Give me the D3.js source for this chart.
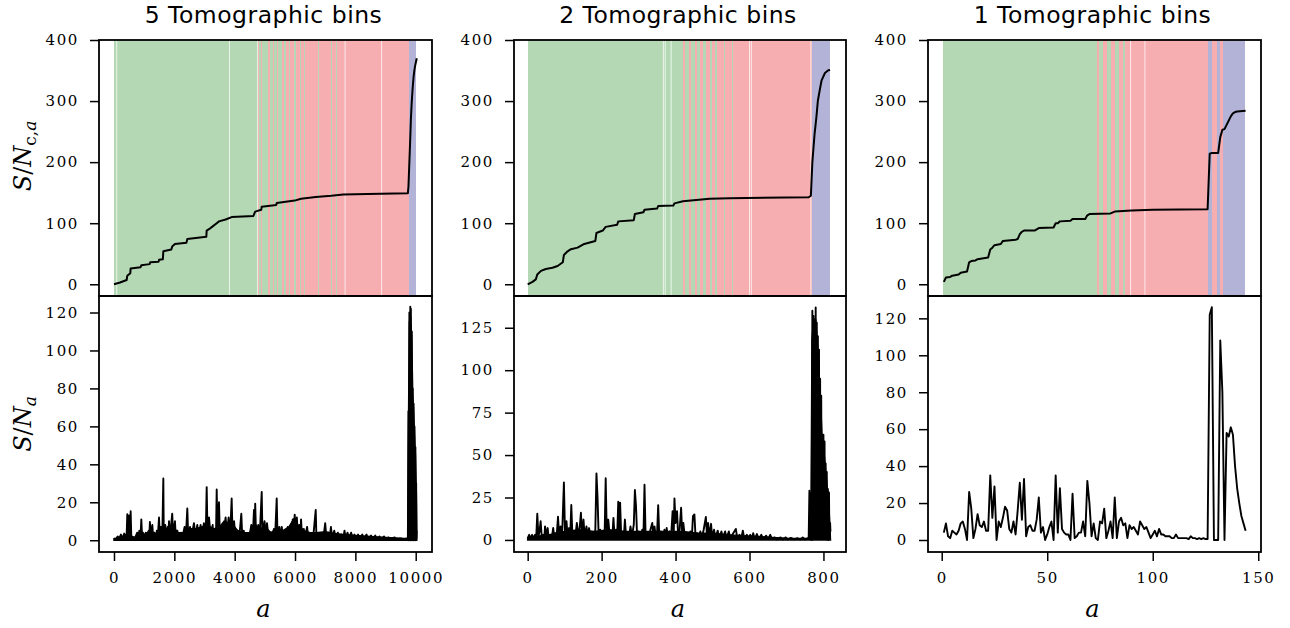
<!DOCTYPE html>
<html>
<head>
<meta charset="utf-8">
<script src="https://cdn.jsdelivr.net/npm/d3@7"></script>
<style>
  body { margin: 0; background: #fff; }
  .tick text { font-family: 'DejaVu Serif', serif; font-size: 15px; letter-spacing: 1.6px; fill: #000; }
  .tick line { stroke: #000; stroke-width: 1.5; }
  .title { font-family: 'DejaVu Sans', sans-serif; font-size: 23.5px; letter-spacing: 0.5px; }
  .math { font-family: 'DejaVu Serif', serif; font-size: 24px; }
</style>
</head>
<body>
<div id="d3block"></div>
<script>
// ---- data ----
var titles = ['5 Tomographic bins', '2 Tomographic bins', '1 Tomographic bins']

var xTicks5 = [0, 2000, 4000, 6000, 8000, 10000]
var xTicks2 = [0, 200, 400, 600, 800]
var xTicks1 = [0, 50, 100, 150]
var yTicksCum = [0, 100, 200, 300, 400]
var yTicks5 = [0, 20, 40, 60, 80, 100, 120]
var yTicks2 = [0, 25, 50, 75, 100, 125]
var yTicks1 = [0, 20, 40, 60, 80, 100, 120]

// cumulative S/N  [a, value]
var cum5 = [[0,0],[200,3],[420,7],[441,14],[540,18],[552,26],[880,28],[906,31],[1180,33],[1200,36],[1480,37],[1492,40],[1620,41],[1635,54],[1900,57],[1930,62],[2020,66],[2400,68],[2430,74],[3060,78],[3072,88],[3200,92],[3250,94],[3404,100],[3480,103],[3700,106],[3900,110],[4620,112],[4680,119],[4880,122],[4896,127],[5380,130],[5393,133],[5990,137],[6200,140],[6686,143],[7200,145],[7600,147],[8400,148],[9740,149],[9760,160],[9790,200],[9820,240],[9840,270],[9870,300],[9900,322],[9930,340],[9960,352],[9990,360],[10035,370]]
var cum2 = [[0,0],[13,4],[22,8],[26,16],[36,22],[49,25],[67,27],[81,30],[95,36],[98,48],[108,54],[117,57.5],[135,60],[153,66],[183,71],[186,84],[203,88],[211,94],[242,97.5],[245,103],[287,105],[290,115],[313,118],[316,122],[350,124],[353,128],[394,129],[397,132.5],[420,136],[456,138],[492,140],[546,141],[760,142.5],[766,145],[770,200],[776,246],[781,274],[785,301],[790,318],[795,334],[804,346],[813,350.5],[818,351]]
var cum1 = [[1,4],[2,11],[4,12],[5,14],[8,16],[9,19],[12,21],[13,36],[14,38],[16,39],[17,41],[22,44],[23,57],[24,60],[25,64],[28,66],[29,71],[35,73],[36,74],[37,82],[38,86],[39,88],[44,88],[45,90],[46,92],[53,93],[54,100],[55,100],[56,103],[61,104],[62,107],[68,107],[69,113],[70,115],[80,116],[82,119],[86,120],[90,121],[100,122],[126,123],[127,214],[128,215],[131,215],[132,241],[133,253],[134,254],[135,261],[136,268],[137,275],[138,280],[139,282],[140,283],[144,284]]

// S/N per mode  [a, value]
var snr5 = [[0,1],[60,0.5],[120,2],[170,1],[230,3],[280,1],[340,3.5],[390,1.5],[420,3],[441,13.7],[460,2],[500,13],[530,3],[552,15.3],[575,1],[620,0.5],[680,1],[720,2],[770,4],[800,1],[840,5],[880,2],[906,11],[930,2],[960,4],[1000,1],[1050,4],[1100,2],[1150,5],[1170,1],[1190,9.6],[1220,2],[1270,8],[1300,1],[1340,4],[1380,1],[1420,5],[1450,1],[1492,12],[1520,2],[1560,7],[1600,1],[1635,32.5],[1650,2],[1700,8],[1740,1],[1780,7],[1800,2],[1823,10],[1850,1],[1900,9],[1930,14],[1960,2],[2020,10],[2050,1],[2100,5],[2150,1],[2220,4],[2260,1],[2340,7],[2380,1],[2430,16.7],[2460,2],[2520,7],[2560,1],[2650,9],[2700,2],[2760,8],[2800,1],[2870,8],[2920,2],[2980,9],[3040,2],[3072,28],[3100,3],[3150,12],[3200,2],[3270,8],[3300,1],[3350,4],[3380,2],[3404,26.7],[3430,3],[3480,20],[3510,2],[3580,8],[3620,2],[3700,12],[3740,3],[3800,12],[3850,3],[3900,22],[3930,3],[3980,10],[4020,2],[4100,5],[4150,1],[4220,14],[4250,2],[4300,5],[4350,1],[4420,3],[4480,1],[4550,8],[4600,2],[4640,16],[4660,3],[4680,19.3],[4710,2],[4780,8],[4830,2],[4896,25.5],[4920,3],[4990,10],[5030,2],[5070,9],[5120,2],[5180,4],[5230,1],[5300,6],[5340,2],[5393,22],[5420,2],[5480,7],[5520,1],[5560,7],[5600,1],[5650,3],[5700,1],[5760,7],[5800,2],[5850,4],[5890,2],[5925,11],[5950,3],[5990,13.5],[6020,3],[6060,12],[6100,2],[6150,8],[6180,2],[6200,11],[6230,2],[6290,6],[6330,1],[6400,7],[6440,1],[6500,3],[6600,1],[6686,16],[6710,1],[6760,3],[6800,1],[6880,3],[6940,1],[7000,9],[7040,1],[7100,4],[7150,1],[7190,7],[7230,1],[7300,5],[7350,1],[7420,4],[7470,1],[7540,3],[7600,1],[7640,5],[7680,1],[7740,4],[7790,1],[7860,4],[7910,1],[7970,3],[8020,0.5],[8090,3],[8140,0.5],[8230,3],[8280,0.5],[8370,3],[8420,0.5],[8520,2.5],[8570,0.5],[8660,2.5],[8710,0.5],[8800,2],[8850,0.5],[8950,2],[9000,0.5],[9100,1.5],[9150,0.5],[9300,1.5],[9350,0.5],[9500,1],[9550,0.3],[9700,1],[9740,0.5],[9760,68],[9770,0],[9790,120],[9800,2],[9820,123],[9830,0],[9840,122],[9850,5],[9870,110],[9880,0],[9900,80],[9910,1],[9930,72],[9940,0],[9960,60],[9970,2],[9990,49],[10000,0],[10015,30],[10025,1],[10035,5]]
var snr2 = [[0,1],[4,3],[8,1],[12,3],[16,1],[20,3],[23,1],[26,15.5],[29,2],[32,5],[35,11],[38,2],[42,3],[45,1],[47,8],[50,2],[54,7],[57,1],[61,3],[65,1],[69,7],[72,2],[75,4],[78,1],[82,13.7],[85,3],[89,8],[93,2],[98,33.8],[101,3],[105,11],[108,2],[112,7],[115,2],[118,20.6],[121,2],[125,5],[129,2],[133,10],[137,2],[141,8],[144,16],[147,3],[151,12],[154,2],[159,8],[162,2],[166,7],[170,2],[175,4],[179,1],[183,6],[186,39.2],[189,25],[192,2],[196,6],[200,1],[205,5],[208,2],[211,36.3],[214,3],[218,12],[222,2],[226,5],[229,2],[232,13],[235,2],[239,6],[242,2],[245,22.5],[248,3],[250,22],[253,2],[258,5],[260,1],[263,12],[266,2],[270,4],[274,1],[278,8],[282,2],[287,9],[290,29.4],[293,20],[296,2],[300,5],[305,2],[310,6],[313,1],[316,32.5],[319,2],[323,4],[327,1],[332,6],[337,10],[340,2],[343,8],[347,1],[350,4],[353,20.5],[356,2],[360,5],[364,1],[370,6],[373,1],[376,7],[379,2],[384,5],[388,2],[392,17],[395,3],[397,24.5],[400,10],[404,17],[407,2],[411,6],[415,19],[418,3],[421,10],[425,2],[430,3],[435,1],[440,5],[444,1],[447,14],[451,15],[454,2],[458,4],[462,1],[467,5],[471,1],[476,6],[482,13.5],[485,2],[488,10],[491,2],[496,9.5],[499,1],[504,6],[508,1],[514,5.5],[518,1],[524,5],[528,1],[534,5],[538,1],[544,5],[548,1],[556,4],[563,6.5],[567,1],[573,3],[577,0.5],[582,5.5],[586,0.5],[593,3],[597,0.5],[602,3],[606,0.5],[610,4],[614,0.5],[620,3.5],[625,0.5],[632,3],[637,0.5],[645,2.5],[650,0.5],[656,3],[661,0.5],[668,1.5],[674,0.3],[684,1.5],[690,0.3],[698,1.5],[704,0.3],[712,1.2],[720,0.3],[730,1],[737,0.3],[744,1.5],[750,0.3],[757,1],[760,0.5],[762,29],[764,1],[766,28],[768,0],[770,135],[771,5],[773,132],[775,2],[777,130],[778,10],[779,137],[781,3],[782,128],[783,12],[785,120],[786,2],[788,112],[789,20],[791,95],[792,12],[794,85],[795,15],[797,62],[798,12],[800,62],[801,13],[803,58],[804,2],[806,45],[807,2],[809,40],[810,1],[812,30],[813,0],[815,28],[816,3],[818,10],[819,5]]
// one value per mode, a = 1..144
var snr1 = [4,9,2,1,5,4,3,5,9,10,6,0,26,17,1,6,14,8,7,10,5,5,35,12,29,0,10,7,12,18,16,6,4,10,3,16,31,11,33,2,7,8,5,5,11,23,4,7,0,3,7,10,0,35,4,28,6,4,3,3,0,25,1,2,4,4,10,2,32,20,2,9,1,0,10,9,17,1,5,10,1,23,1,10,12,8,9,1,8,6,7,5,3,10,8,6,7,4,1,3,5,2,6,3,3,2,2,2,1,1,3,1,1,1,1,1,0.5,2,1,1,0.5,1,0.5,1,0.5,0.5,122,126,0,0,0,108,80,0,58,56,61,57,40,28,20,13,9,5]

// solid black footprint of the densely oscillating S/N curves  [a, top]
var fill5 = [[0,0.8],[300,1.5],[420,3],[700,1.5],[800,3],[1000,3],[1200,5],[1400,3],[1600,4],[1800,5],[1950,8],[2100,4],[2300,4],[2500,6],[2700,6],[2900,7],[3100,8],[3300,6],[3500,7],[3650,10],[3800,9],[3950,8],[4100,5],[4300,4],[4500,4],[4650,9],[4800,6],[5000,7],[5200,4],[5400,6],[5600,5],[5800,7],[5950,11],[6100,8],[6300,5],[6500,4],[6700,4],[7000,4.5],[7300,3.5],[7600,3],[8000,2.5],[8500,2],[9000,1.5],[9500,1],[9740,0.8],[9760,60],[9790,115],[9830,118],[9870,105],[9900,78],[9930,68],[9960,56],[9990,45],[10020,25],[10035,3]]
var fill2 = [[0,1],[20,2],[60,3],[100,5],[140,6],[180,5],[220,6],[260,5],[300,5],[340,5],[380,5],[420,5],[460,4],[500,4],[540,3],[580,2.5],[620,2],[660,1.5],[700,1],[760,0.8],[766,0.8],[769,118],[772,126],[776,124],[779,130],[782,120],[785,110],[788,98],[791,86],[794,72],[797,56],[800,54],[803,48],[806,40],[809,34],[812,25],[815,18],[818,5],[819,0]]

// background bands  [from a, to a, kind]
var bands5 = [[0,4760,'g'],[4760,4790,'r'],[4790,4870,'g'],[4870,4900,'r'],[4900,4990,'g'],[4990,5020,'r'],[5020,5120,'g'],[5120,5160,'r'],[5160,5260,'g'],[5260,5290,'r'],[5290,5400,'g'],[5400,5440,'r'],[5440,5560,'g'],[5560,5620,'r'],[5620,5700,'g'],[5700,5800,'r'],[5800,5840,'g'],[5840,5980,'r'],[5980,6020,'g'],[6020,6150,'r'],[6150,6190,'g'],[6190,6300,'r'],[6300,6330,'g'],[6330,6760,'r'],[6760,6800,'g'],[6800,7190,'r'],[7190,7230,'g'],[7230,7360,'r'],[7360,7400,'g'],[7400,9790,'r'],[9790,10010,'b']]
var bands2 = [[0,420,'g'],[420,426,'r'],[426,436,'g'],[436,442,'r'],[442,452,'g'],[452,458,'r'],[458,466,'g'],[466,474,'r'],[474,482,'g'],[482,492,'r'],[492,498,'g'],[498,508,'r'],[508,512,'g'],[512,530,'r'],[530,534,'g'],[534,552,'r'],[552,556,'g'],[556,770,'r'],[770,818,'b']]
var bands1 = [[0.8,73.7,'g'],[73.7,74.7,'r'],[74.7,76.3,'g'],[76.3,78.2,'r'],[78.2,80.1,'g'],[80.1,82.1,'r'],[82.1,84.2,'g'],[84.2,86.1,'r'],[86.1,86.8,'g'],[86.8,126,'r'],[126,127.9,'b'],[127.9,130.6,'r'],[130.6,131.8,'b'],[131.8,133.1,'r'],[133.1,143.7,'b']]
// thin light seams inside the bands
var seams5 = [90, 3830, 4760, 7660, 8870]
var seams2 = [367, 372, 388, 600, 605, 766]
var seams1 = [89.5, 96.3]

// ---- layout ----
var w = 1290, h = 628
var yTop = 40, yMid = 296, yBot = 552
var bandColor = { g: '#b3d8b3', r: '#f7aeb1', b: '#b3b3d8' }

var panels = [
  { left: 99, right: 432, xDom: [-497, 10540], xTicks: xTicks5, yDom: [-6.2, 128.7], yTicks: yTicks5,
    cum: cum5, snr: snr5, fill: fill5, bands: bands5, seams: seams5 },
  { left: 514, right: 846, xDom: [-37, 861], xTicks: xTicks2, yDom: [-7.1, 143.7], yTicks: yTicks2,
    cum: cum2, snr: snr2, fill: fill2, bands: bands2, seams: seams2 },
  { left: 928, right: 1261, xDom: [-6.5, 151.3], xTicks: xTicks1, yDom: [-6.5, 132.1], yTicks: yTicks1,
    cum: cum1, snr: snr1.map(function (v, i) { return [i + 1, v] }), fill: [], bands: bands1, seams: seams1 }
]

var svg = d3.select('#d3block')
  .append('svg')
  .attr('width', w)
  .attr('height', h)

panels.forEach(function (p, i) {
  var x = d3.scaleLinear().domain(p.xDom).range([p.left, p.right])
  var yC = d3.scaleLinear().domain([-19.2, 400]).range([yMid, yTop])
  var yS = d3.scaleLinear().domain(p.yDom).range([yBot, yMid])

  // background bands
  svg.append('g')
    .selectAll('rect')
    .data(p.bands)
    .enter()
    .append('rect')
    .attr('x', function (d) { return x(d[0]) })
    .attr('width', function (d) { return x(d[1]) - x(d[0]) })
    .attr('y', yTop)
    .attr('height', yMid - yTop)
    .attr('fill', function (d) { return bandColor[d[2]] })
    .attr('shape-rendering', 'crispEdges')

  svg.append('g')
    .selectAll('line')
    .data(p.seams)
    .enter()
    .append('line')
    .attr('x1', function (d) { return x(d) })
    .attr('x2', function (d) { return x(d) })
    .attr('y1', yTop)
    .attr('y2', yMid)
    .attr('stroke', '#fff')
    .attr('stroke-opacity', 0.75)
    .attr('stroke-width', 1)

  // lines
  var cumLine = d3.line().x(function (d) { return x(d[0]) }).y(function (d) { return yC(d[1]) })
  var snrLine = d3.line().x(function (d) { return x(d[0]) }).y(function (d) { return yS(d[1]) })
  var snrArea = d3.area().x(function (d) { return x(d[0]) }).y0(yS(0)).y1(function (d) { return yS(d[1]) })

  svg.append('path')
    .attr('d', cumLine(p.cum))
    .attr('fill', 'none')
    .attr('stroke', '#000')
    .attr('stroke-width', 2)
    .attr('stroke-linejoin', 'round')

  if (p.fill.length) {
    svg.append('path')
      .attr('d', snrArea(p.fill))
      .attr('fill', '#000')
      .attr('stroke', '#000')
      .attr('stroke-width', 1.5)
  }

  svg.append('path')
    .attr('d', snrLine(p.snr))
    .attr('fill', 'none')
    .attr('stroke', '#000')
    .attr('stroke-width', 1.9)
    .attr('stroke-linejoin', 'round')

  // axes
  svg.append('g')
    .attr('transform', 'translate(' + p.left + ',0)')
    .call(d3.axisLeft(yC).tickValues(yTicksCum).tickSize(9).tickPadding(11).tickFormat(d3.format('d')))
    .call(function (g) { g.select('.domain').remove() })
  svg.append('g')
    .attr('transform', 'translate(' + p.left + ',0)')
    .call(d3.axisLeft(yS).tickValues(p.yTicks).tickSize(9).tickPadding(11).tickFormat(d3.format('d')))
    .call(function (g) { g.select('.domain').remove() })
  svg.append('g')
    .attr('transform', 'translate(0,' + yBot + ')')
    .call(d3.axisBottom(x).tickValues(p.xTicks).tickSize(9).tickPadding(11).tickFormat(d3.format('d')))
    .call(function (g) { g.select('.domain').remove() })

  // frames
  svg.append('rect')
    .attr('x', p.left).attr('y', yTop)
    .attr('width', p.right - p.left).attr('height', yMid - yTop)
    .attr('fill', 'none').attr('stroke', '#000').attr('stroke-width', 1.8)
  svg.append('rect')
    .attr('x', p.left).attr('y', yMid)
    .attr('width', p.right - p.left).attr('height', yBot - yMid)
    .attr('fill', 'none').attr('stroke', '#000').attr('stroke-width', 1.8)

  // title
  svg.append('text')
    .attr('class', 'title')
    .attr('x', (p.left + p.right) / 2 - 2)
    .attr('y', 23)
    .attr('text-anchor', 'middle')
    .text(titles[i])

  // x label
  svg.append('text')
    .attr('class', 'math')
    .attr('x', (p.left + p.right) / 2 - 2)
    .attr('y', 617)
    .attr('text-anchor', 'middle')
    .style('font-style', 'italic')
    .text('a')
})

// y labels (first column only)
var yl1 = svg.append('text')
  .attr('class', 'math')
  .attr('transform', 'translate(31,156) rotate(-90)')
  .attr('text-anchor', 'middle')
yl1.append('tspan').style('font-style', 'italic').text('S')
yl1.append('tspan').text('/')
yl1.append('tspan').style('font-style', 'italic').text('N')
yl1.append('tspan').attr('dy', 5).style('font-size', '17px').text('c,')
yl1.append('tspan').style('font-size', '17px').style('font-style', 'italic').text('a')

var yl2 = svg.append('text')
  .attr('class', 'math')
  .attr('transform', 'translate(31,424) rotate(-90)')
  .attr('text-anchor', 'middle')
yl2.append('tspan').style('font-style', 'italic').text('S')
yl2.append('tspan').text('/')
yl2.append('tspan').style('font-style', 'italic').text('N')
yl2.append('tspan').attr('dy', 5).style('font-size', '17px').style('font-style', 'italic').text('a')
</script>
</body>
</html>
